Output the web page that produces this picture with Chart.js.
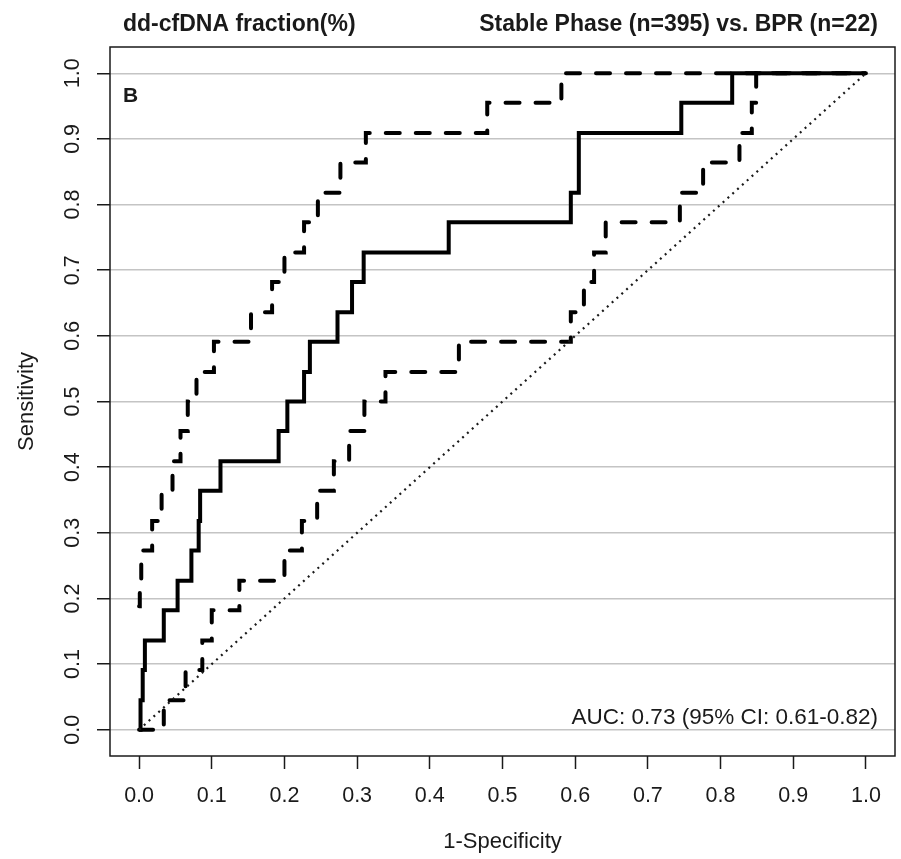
<!DOCTYPE html>
<html>
<head>
<meta charset="utf-8">
<script src="https://cdn.jsdelivr.net/npm/chart.js@4.4.1/dist/chart.umd.min.js"></script>
<style>
  html, body { margin: 0; padding: 0; background: #fff; }
  #wrap { width: 901px; height: 859px; position: relative; }
</style>
</head>
<body>
<div id="wrap"><canvas id="rocChart"></canvas></div>
<script>
// tick positions and labels (both axes)
var tickValues = [0, 0.1, 0.2, 0.3, 0.4, 0.5, 0.6, 0.7, 0.8, 0.9, 1.0];
var tickLabels = ["0.0", "0.1", "0.2", "0.3", "0.4", "0.5", "0.6", "0.7", "0.8", "0.9", "1.0"];

// main ROC curve (1-specificity, sensitivity), step corners
var mainFpr = [0, 0.002, 0.005, 0.008, 0.034, 0.053, 0.072, 0.082, 0.084, 0.112, 0.192, 0.204, 0.227, 0.235, 0.273, 0.293, 0.309, 0.426, 0.594, 0.605, 0.605, 0.746, 0.816, 1.0];
var mainTpr = [0, 0.045, 0.091, 0.136, 0.182, 0.227, 0.273, 0.318, 0.364, 0.409, 0.455, 0.5, 0.545, 0.591, 0.636, 0.682, 0.727, 0.773, 0.818, 0.864, 0.909, 0.955, 1.0, 1.0];

// upper 95% CI
var upperFpr = [0, 0.001, 0.003, 0.018, 0.031, 0.046, 0.057, 0.067, 0.079, 0.103, 0.154, 0.183, 0.2, 0.227, 0.246, 0.277, 0.312, 0.479, 0.581, 1.0];
var upperTpr = [0.188, 0.227, 0.273, 0.318, 0.364, 0.409, 0.455, 0.5, 0.545, 0.591, 0.636, 0.682, 0.727, 0.773, 0.818, 0.864, 0.909, 0.955, 1.0, 1.0];

// lower 95% CI
var lowerFpr = [0, 0.034, 0.064, 0.087, 0.1, 0.138, 0.2, 0.224, 0.245, 0.268, 0.289, 0.31, 0.339, 0.44, 0.594, 0.612, 0.626, 0.642, 0.744, 0.776, 0.826, 0.843, 0.849, 1.0];
var lowerTpr = [0, 0.045, 0.091, 0.136, 0.182, 0.227, 0.273, 0.318, 0.364, 0.409, 0.455, 0.5, 0.545, 0.591, 0.636, 0.682, 0.727, 0.773, 0.818, 0.864, 0.909, 0.955, 1.0, 1.0];

// chance line
var diagFpr = [0, 1];
var diagTpr = [0, 1];

var titleLeft = "dd-cfDNA fraction(%)";
var titleRight = "Stable Phase (n=395) vs. BPR (n=22)";
var panelLetter = "B";
var aucText = "AUC: 0.73 (95% CI: 0.61-0.82)";

function toPoints(xs, ys) {
  return xs.map(function (x, i) { return { x: x, y: ys[i] }; });
}

var FONT = "'Liberation Sans', Arial, Helvetica, sans-serif";
var INK = "#1a1a1a";
Chart.defaults.font.family = FONT;
Chart.defaults.color = INK;

// frame, rotated y tick labels and text annotations
var decorations = {
  id: "decorations",
  afterDraw: function (chart) {
    var ctx = chart.ctx;
    var area = chart.chartArea;
    var ys = chart.scales.y;
    ctx.save();
    ctx.strokeStyle = INK;
    ctx.lineWidth = 1.5;
    ctx.strokeRect(area.left, area.top, area.right - area.left, area.bottom - area.top);

    ctx.fillStyle = INK;
    ctx.font = "21.5px " + FONT;
    ctx.textAlign = "center";
    ctx.textBaseline = "middle";
    tickValues.forEach(function (v, i) {
      ctx.save();
      ctx.translate(73, ys.getPixelForValue(v));
      ctx.rotate(-Math.PI / 2);
      ctx.fillText(tickLabels[i], 0, 0);
      ctx.restore();
    });

    ctx.textBaseline = "alphabetic";
    ctx.font = "bold 23px " + FONT;
    ctx.textAlign = "left";
    ctx.fillText(titleLeft, 123, 31);
    ctx.textAlign = "right";
    ctx.fillText(titleRight, 878, 31);

    ctx.font = "bold 21px " + FONT;
    ctx.textAlign = "left";
    ctx.fillText(panelLetter, 123, 102);

    ctx.font = "22.5px " + FONT;
    ctx.textAlign = "right";
    ctx.fillText(aucText, 878, 724);
    ctx.restore();
  }
};

function fixedTicks(scale) {
  scale.ticks = tickValues.map(function (v) { return { value: v }; });
}

var ctx = document.getElementById("rocChart").getContext("2d");
var rocChart = new Chart(ctx, {
  type: "line",
  data: {
    datasets: [
      {
        label: "chance",
        data: toPoints(diagFpr, diagTpr),
        borderColor: INK,
        borderWidth: 2.2,
        borderDash: [2, 4.5],
        pointRadius: 0,
        fill: false
      },
      {
        label: "upper CI",
        data: toPoints(upperFpr, upperTpr),
        stepped: "before",
        borderColor: "#000",
        borderWidth: 4,
        borderDash: [14, 16],
        borderCapStyle: "round",
        pointRadius: 0,
        fill: false
      },
      {
        label: "lower CI",
        data: toPoints(lowerFpr, lowerTpr),
        stepped: "before",
        borderColor: "#000",
        borderWidth: 4,
        borderDash: [14, 16],
        borderCapStyle: "round",
        pointRadius: 0,
        fill: false
      },
      {
        label: "ROC",
        data: toPoints(mainFpr, mainTpr),
        stepped: "before",
        borderColor: "#000",
        borderWidth: 4,
        pointRadius: 0,
        fill: false
      }
    ]
  },
  options: {
    responsive: true,
    maintainAspectRatio: false,
    animation: false,
    layout: { padding: { top: 47, right: 6, left: 0, bottom: 0 } },
    plugins: {
      legend: { display: false },
      tooltip: { enabled: false }
    },
    scales: {
      x: {
        type: "linear",
        min: -0.04,
        max: 1.04,
        afterBuildTicks: fixedTicks,
        afterFit: function (scale) { scale.height = 103; },
        border: { display: false },
        grid: {
          drawOnChartArea: false,
          drawTicks: true,
          tickLength: 13,
          tickColor: INK,
          tickWidth: 1.5
        },
        ticks: {
          padding: 14,
          maxRotation: 0,
          font: { size: 21.5 },
          callback: function (value) {
            var i = tickValues.indexOf(value);
            return i >= 0 ? tickLabels[i] : "";
          }
        },
        title: {
          display: true,
          text: "1-Specificity",
          font: { size: 22 },
          padding: { top: 0, bottom: 4 }
        }
      },
      y: {
        type: "linear",
        min: -0.04,
        max: 1.04,
        afterBuildTicks: fixedTicks,
        afterFit: function (scale) { scale.width = 110; },
        border: { display: false },
        grid: {
          color: "#c4c4c4",
          lineWidth: 1.5,
          drawTicks: true,
          tickLength: 13,
          tickColor: INK,
          tickWidth: 1.5
        },
        ticks: { display: false },
        title: {
          display: true,
          text: "Sensitivity",
          font: { size: 22 },
          padding: { top: 14, bottom: 0 }
        }
      }
    }
  },
  plugins: [decorations]
});
</script>
</body>
</html>
